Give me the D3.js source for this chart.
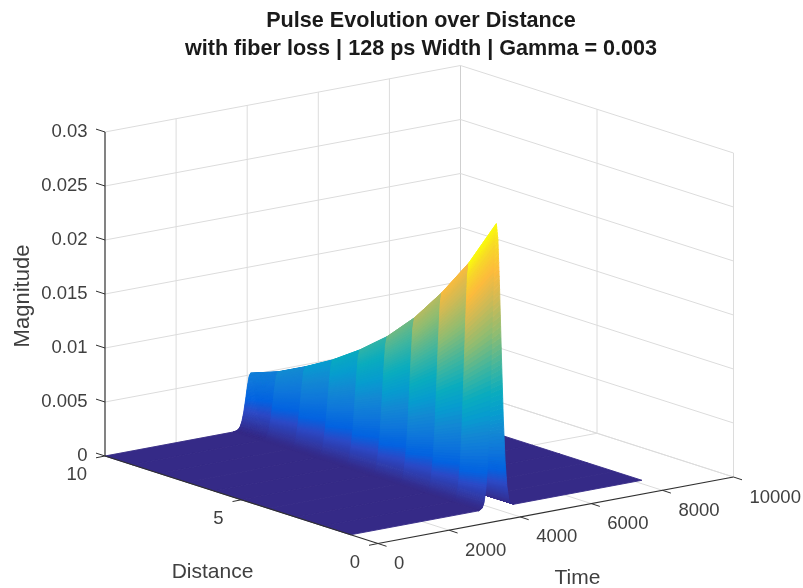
<!DOCTYPE html>
<html>
<head>
<meta charset="utf-8">
<style>
    html, body { margin:0; padding:0; background:#fff; }
    svg { display:block; filter:blur(0.5px); }
    text { font-family:"Liberation Sans", sans-serif; fill:#404040; }
</style>
<script src="https://cdn.jsdelivr.net/npm/d3@7"></script>
</head>
<body>
<svg id="chart" width="803" height="588"></svg>
<script>
// values
var timeTicks = [0, 2000, 4000, 6000, 8000, 10000];
var distTicks = [0, 5, 10];
var magTicks = [0, 0.005, 0.01, 0.015, 0.02, 0.025, 0.03];
var magTickLabels = ["0", "0.005", "0.01", "0.015", "0.02", "0.025", "0.03"];

var distances = [10, 9, 8, 7, 6, 5, 4, 3, 2, 1];
var peakMagnitude = [0.00515, 0.00608, 0.00736, 0.0088, 0.01054, 0.01258, 0.01513, 0.01826, 0.02185, 0.02628];

var timeSamples = [0, 3600, 3700, 3750, 3800, 3850, 3900, 3950, 4000, 4050, 4096, 4142, 4192, 4242, 4292, 4342, 4392, 4442, 4492, 4592, 8192];
var pulseShape = [0, 0, 0.008, 0.025, 0.07, 0.16, 0.31, 0.52, 0.75, 0.94, 1, 0.94, 0.75, 0.52, 0.31, 0.16, 0.07, 0.025, 0.008, 0, 0];

var parulaStops = [0, 0.08, 0.127, 0.206, 0.27, 0.333, 0.41, 0.5, 0.62, 0.74, 0.84, 0.92, 1];
var parulaColors = ["#352a87", "#2b4ac7", "#0363e1", "#1079da", "#1389d3", "#079ccf", "#0aacbe", "#3eb5a0", "#8dbc72", "#cfba55", "#fdbb3c", "#f8d52a", "#f9fb0e"];

var titleLines = ["Pulse Evolution over Distance", "with fiber loss | 128 ps Width | Gamma = 0.003"];

var svg = d3.select("#chart");

var originX = 105, originY = 456;
var timeX = d3.scaleLinear().domain([0, 10000]).range([0, 355.5]);
var timeY = d3.scaleLinear().domain([0, 10000]).range([0, -66.5]);
var distX = d3.scaleLinear().domain([10, 0]).range([0, 273]);
var distY = d3.scaleLinear().domain([10, 0]).range([0, 87.5]);
var magY = d3.scaleLinear().domain([0, 0.03]).range([0, -324]);
var color = d3.scaleLinear().domain(parulaStops.map(function(s){ return s * 0.02628; })).range(parulaColors).clamp(true);

function project(t, d, z) {
    return [originX + timeX(t) + distX(d), originY + timeY(t) + distY(d) + magY(z || 0)];
}

var line3d = d3.line();

function seg(g, a, b, stroke, width) {
    g.append("path")
        .attr("d", line3d([a, b]))
        .attr("fill", "none")
        .attr("stroke", stroke)
        .attr("stroke-width", width);
}

// grid walls and floor
var grid = svg.append("g");
var gridColor = "#dcdcdc";

timeTicks.forEach(function(t) {
    if (t > 0) seg(grid, project(t, 10, 0), project(t, 10, 0.03), t == 10000 ? "#cfcfcf" : gridColor, 1);
    if (t > 0) seg(grid, project(t, 10, 0), project(t, 0, 0), gridColor, 1);
});
distTicks.forEach(function(d) {
    if (d < 10) seg(grid, project(10000, d, 0), project(10000, d, 0.03), gridColor, 1);
    if (d > 0) seg(grid, project(0, d, 0), project(10000, d, 0), gridColor, 1);
});
magTicks.forEach(function(m) {
    if (m > 0) seg(grid, project(0, 10, m), project(10000, 10, m), gridColor, 1);
    seg(grid, project(10000, 10, m), project(10000, 0, m), gridColor, 1);
});

// surface, far cells first. shading is flat in distance: each strip takes
// its colour from the nearer distance row, as the picture shows
function magAt(i, j) { return peakMagnitude[j] * pulseShape[i]; }

var cells = [];
for (var j = 0; j < distances.length - 1; j++) {
    for (var i = timeSamples.length - 2; i >= 0; i--) {
        var nt = pulseShape[i] == 0 && pulseShape[i + 1] == 0 ? 1 : 12;
        for (var a = nt - 1; a >= 0; a--) {
            cells.push({i: i, j: j, u0: a / nt, u1: (a + 1) / nt});
        }
    }
}

function edgePoint(c, u, row) {
    var t = timeSamples[c.i] + (timeSamples[c.i + 1] - timeSamples[c.i]) * u;
    var z = magAt(c.i, row) + (magAt(c.i + 1, row) - magAt(c.i, row)) * u;
    return project(t, distances[row], z);
}

function cellColor(c) {
    var u = (c.u0 + c.u1) / 2;
    return color(magAt(c.i, c.j + 1) + (magAt(c.i + 1, c.j + 1) - magAt(c.i, c.j + 1)) * u);
}

svg.append("g")
    .selectAll("path")
    .data(cells)
    .join("path")
    .attr("d", function(c) {
        return line3d([
            edgePoint(c, c.u0, c.j),
            edgePoint(c, c.u1, c.j),
            edgePoint(c, c.u1, c.j + 1),
            edgePoint(c, c.u0, c.j + 1)
        ]) + "Z";
    })
    .attr("fill", cellColor)
    .attr("stroke", cellColor)
    .attr("stroke-width", 0.9);

// axes
var axes = svg.append("g");
var axisColor = "#303030";
seg(axes, project(0, 10, 0), project(0, 10, 0.03), axisColor, 1.2);
seg(axes, project(0, 10, 0), project(0, 0, 0), axisColor, 1.2);
seg(axes, project(0, 0, 0), project(10000, 0, 0), axisColor, 1.2);

magTicks.forEach(function(m, k) {
    var p = project(0, 10, m);
    seg(axes, p, [p[0] - 9, p[1] - 2.9], axisColor, 1);
    axes.append("text")
        .attr("x", p[0] - 17.5)
        .attr("y", p[1] + 5)
        .attr("text-anchor", "end")
        .attr("font-size", 18.5)
        .text(magTickLabels[k]);
});

distTicks.forEach(function(d) {
    var p = project(0, d, 0);
    seg(axes, p, [p[0] - 9, p[1] + 1.8], axisColor, 1);
    axes.append("text")
        .attr("x", p[0] - 18)
        .attr("y", p[1] + 24)
        .attr("text-anchor", "end")
        .attr("font-size", 18.5)
        .text(d);
});

timeTicks.forEach(function(t) {
    var p = project(t, 0, 0);
    seg(axes, p, [p[0] + 8.5, p[1] + 2.8], axisColor, 1);
    axes.append("text")
        .attr("x", p[0] + 16)
        .attr("y", p[1] + 25.5)
        .attr("font-size", 18.5)
        .text(t);
});

svg.append("text").attr("x", 212.5).attr("y", 578).attr("text-anchor", "middle").attr("font-size", 21).text("Distance");
svg.append("text").attr("x", 577.5).attr("y", 584).attr("text-anchor", "middle").attr("font-size", 21).text("Time");
svg.append("text")
    .attr("transform", "translate(28.5,296) rotate(-90)")
    .attr("text-anchor", "middle")
    .attr("font-size", 22)
    .text("Magnitude");

svg.append("g").selectAll("text")
    .data(titleLines)
    .join("text")
    .attr("x", 421)
    .attr("y", function(d, k) { return 27 + k * 27.5; })
    .attr("text-anchor", "middle")
    .attr("font-size", 21.6)
    .attr("font-weight", "bold")
    .style("fill", "#1a1a1a")
    .text(function(d) { return d; });
</script>
</body>
</html>
